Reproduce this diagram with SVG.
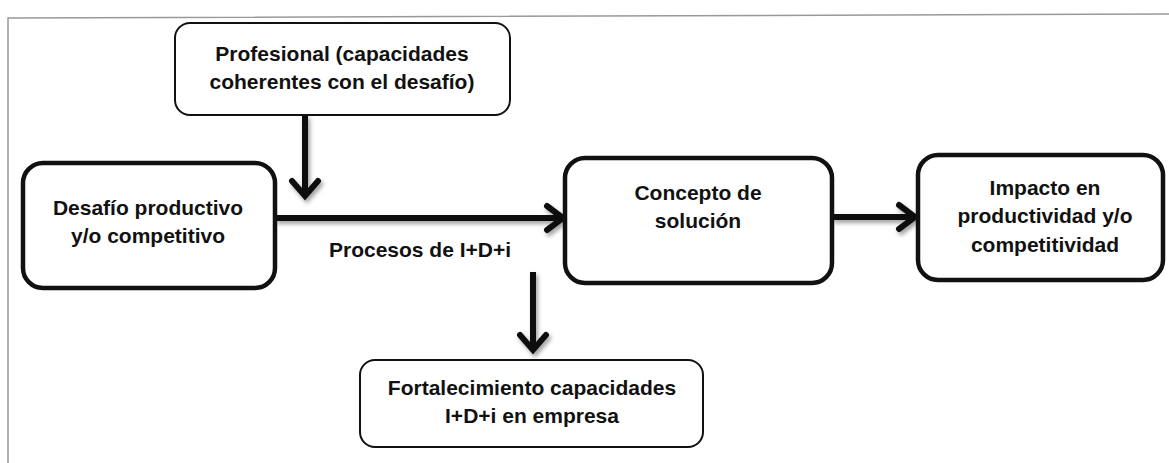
<svg xmlns="http://www.w3.org/2000/svg" width="1169" height="463" viewBox="0 0 1169 463">
<style>
.thin{fill:#fff;stroke:#111;stroke-width:2}
.thick{fill:#fff;stroke:#111;stroke-width:4.5}
text{font-family:"Liberation Sans",Arial,sans-serif;font-weight:bold;font-size:21px;fill:#111;text-anchor:middle}
.conn{stroke:#111;stroke-width:6;fill:none}
.head{stroke:#111;stroke-width:6;fill:none;stroke-linecap:round;stroke-linejoin:miter}
</style>
<defs>
<filter id="sh" x="-20%" y="-20%" width="140%" height="140%">
<feDropShadow dx="2" dy="3" stdDeviation="2" flood-color="#777" flood-opacity="0.7"/>
</filter>
</defs>
<rect width="1169" height="463" fill="#fff"/>
<path d="M8,463 V18 L1169,14" fill="none" stroke="#999" stroke-width="1.5"/>
<g id="connectors" filter="url(#sh)">
<line class="conn" x1="305" y1="115" x2="305" y2="194"/>
<polyline class="head" points="292,181 305,196 318,181"/>
<line class="conn" x1="275" y1="218" x2="561" y2="218"/>
<polyline class="head" points="547,206 563,218 547,230"/>
<line class="conn" x1="832" y1="217" x2="913" y2="217"/>
<polyline class="head" points="899,205 915,217 899,229"/>
<line class="conn" x1="533" y1="272" x2="533" y2="348"/>
<polyline class="head" points="520,335 533,350 546,335"/>
</g>
<text x="420" y="257">Procesos de I+D+i</text>
<g id="profesional">
<rect class="thin" x="175" y="23" width="335" height="92" rx="15"/>
<text x="342" y="61">Profesional (capacidades</text>
<text x="342" y="89">coherentes con el desafío)</text>
</g>
<g id="desafio">
<rect class="thick" x="23" y="163" width="252" height="125" rx="20"/>
<text x="148" y="215">Desafío productivo</text>
<text x="148" y="243">y/o competitivo</text>
</g>
<g id="concepto">
<rect class="thick" x="565" y="158" width="267" height="125" rx="20"/>
<text x="698" y="200">Concepto de</text>
<text x="698" y="228">solución</text>
</g>
<g id="impacto">
<rect class="thick" x="918" y="155" width="245" height="125" rx="20"/>
<text x="1045" y="195">Impacto en</text>
<text x="1045" y="223">productividad y/o</text>
<text x="1045" y="252">competitividad</text>
</g>
<g id="fortalecimiento">
<rect class="thin" x="360" y="360" width="343" height="87" rx="15"/>
<text x="532" y="395">Fortalecimiento capacidades</text>
<text x="532" y="423">I+D+i en empresa</text>
</g>
</svg>
